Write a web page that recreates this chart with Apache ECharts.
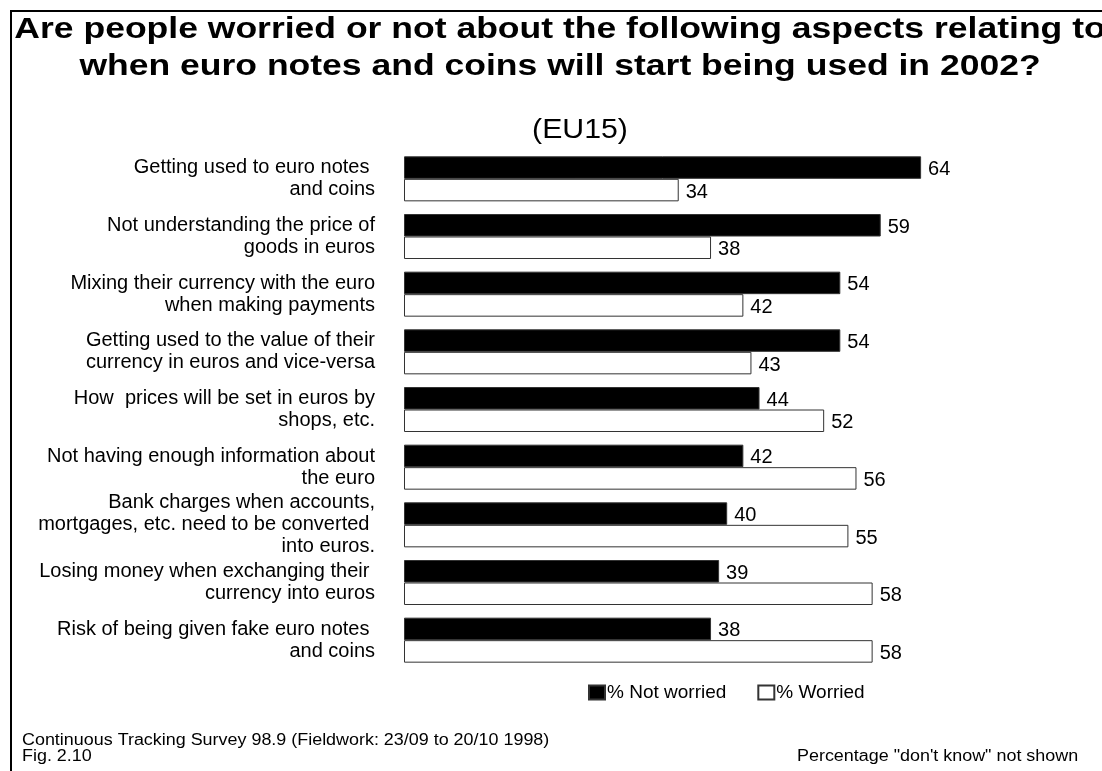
<!DOCTYPE html>
<html>
<head>
<meta charset="utf-8">
<script src="https://cdn.jsdelivr.net/npm/echarts@6/dist/echarts.min.js"></script>
<style>
  html, body { margin: 0; padding: 0; background: #fff; }
  #chart { width: 1102px; height: 771px; }
</style>
</head>
<body>
<div id="chart"></div>
<script>
// Survey aspects, top to bottom
const categories = [
  'Getting used to euro notes \nand coins',
  'Not understanding the price of\ngoods in euros',
  'Mixing their currency with the euro\nwhen making payments',
  'Getting used to the value of their\ncurrency in euros and vice-versa',
  'How  prices will be set in euros by\nshops, etc.',
  'Not having enough information about\nthe euro',
  'Bank charges when accounts,\nmortgages, etc. need to be converted \ninto euros.',
  'Losing money when exchanging their \ncurrency into euros',
  'Risk of being given fake euro notes \nand coins'
];
const notWorried = [64, 59, 54, 54, 44, 42, 40, 39, 38];
const worried = [34, 38, 42, 43, 52, 56, 55, 58, 58];
const seriesNames = ['% Not worried', '% Worried'];

const titleText = 'Are people worried or not about the following aspects relating to\nwhen euro notes and coins will start being used in 2002?';
const subtitleText = '(EU15)';
const sourceText = 'Continuous Tracking Survey 98.9 (Fieldwork: 23/09 to 20/10 1998)\nFig. 2.10';
const noteText = 'Percentage "don\'t know" not shown';

const FONT = 'Arial, "Liberation Sans", sans-serif';
const chart = echarts.init(document.getElementById('chart'), null, { renderer: 'canvas' });

chart.setOption({
  animation: false,
  backgroundColor: '#fff',
  graphic: [
    {
      // frame around the figure (open to the right and bottom)
      type: 'polyline',
      shape: { points: [[11, 790], [11, 11], [1120, 11]] },
      style: { stroke: '#000', lineWidth: 2, fill: null },
      silent: true
    },
    {
      // heading, set in a wide bold face
      type: 'text',
      x: 560, y: 48.5, scaleX: 1.184, scaleY: 1,
      silent: true,
      style: {
        text: titleText,
        fontFamily: FONT, fontSize: 30, fontWeight: 'bold',
        lineHeight: 37, fill: '#000',
        align: 'center', verticalAlign: 'middle'
      }
    },
    {
      type: 'text',
      x: 580, y: 131, scaleX: 1.12, scaleY: 1,
      silent: true,
      style: {
        text: subtitleText,
        fontFamily: FONT, fontSize: 27, fill: '#000',
        align: 'center', verticalAlign: 'middle'
      }
    },
    {
      type: 'text',
      x: 22, y: 749, scaleX: 1.12, scaleY: 1,
      silent: true,
      style: {
        text: sourceText,
        fontFamily: FONT, fontSize: 16, lineHeight: 16, fill: '#000',
        align: 'left', verticalAlign: 'middle'
      }
    },
    {
      type: 'text',
      x: 797, y: 757, scaleX: 1.12, scaleY: 1,
      silent: true,
      style: {
        text: noteText,
        fontFamily: FONT, fontSize: 16, fill: '#000',
        align: 'left', verticalAlign: 'middle'
      }
    }
  ],
  legend: {
    data: seriesNames,
    left: 588,
    top: 683,
    padding: 0,
    itemWidth: 16,
    itemHeight: 14,
    itemGap: 31,
    icon: 'rect',
    textStyle: { fontFamily: FONT, fontSize: 19, color: '#000', padding: [0, 0, 0, -3] }
  },
  grid: {
    left: 404,
    top: 150,
    width: 565.6,
    height: 519,
    containLabel: false
  },
  xAxis: {
    type: 'value',
    min: 0,
    max: 70,
    show: false
  },
  yAxis: {
    type: 'category',
    data: categories,
    inverse: true,
    axisLine: { show: false },
    axisTick: { show: false },
    splitLine: { show: false },
    axisLabel: {
      margin: 29,
      color: '#000',
      fontFamily: FONT,
      fontSize: 20,
      lineHeight: 22,
      align: 'right'
    }
  },
  series: [
    {
      name: seriesNames[0],
      type: 'bar',
      data: notWorried,
      barWidth: 22.5,
      barGap: '0%',
      itemStyle: { color: '#000', borderColor: '#333', borderWidth: 1 },
      label: { show: true, position: 'right', distance: 7, offset: [0, 2], color: '#000', fontFamily: FONT, fontSize: 20 }
    },
    {
      name: seriesNames[1],
      type: 'bar',
      data: worried,
      barWidth: 22.5,
      barGap: '0%',
      itemStyle: { color: '#fff', borderColor: '#333', borderWidth: 1 },
      label: { show: true, position: 'right', distance: 7, offset: [0, 2], color: '#000', fontFamily: FONT, fontSize: 20 }
    }
  ]
});
</script>
</body>
</html>
